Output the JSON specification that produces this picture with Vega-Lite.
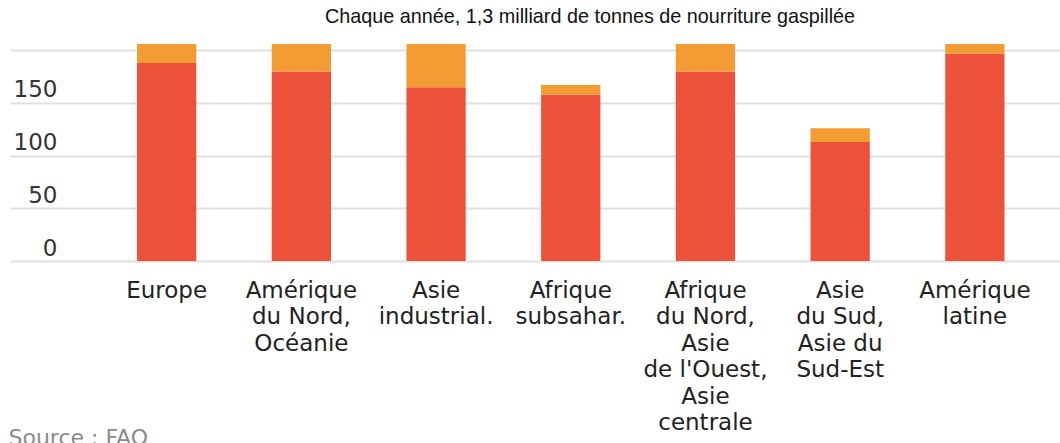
{
  "$schema": "https://vega.github.io/schema/vega-lite/v6.json",
  "width": 1050,
  "height": 217,
  "autosize": {"type": "none"},
  "padding": {"left": 10, "top": 44, "right": 0, "bottom": 182},
  "background": "white",
  "title": {
    "text": "Chaque année, 1,3 milliard de tonnes de nourriture gaspillée",
    "font": "Liberation Sans",
    "fontSize": 19.8,
    "fontWeight": "normal",
    "color": "#111111",
    "anchor": "middle",
    "frame": "group",
    "dx": 55,
    "offset": 1,
    "baseline": "alphabetic"
  },
  "data": {
    "values": [
      {"region": "Europe", "type": "Production et distribution", "ordre": 1, "kg": 188},
      {"region": "Europe", "type": "Consommateurs", "ordre": 2, "kg": 92},
      {"region": "Amérique|du Nord,|Océanie", "type": "Production et distribution", "ordre": 1, "kg": 180},
      {"region": "Amérique|du Nord,|Océanie", "type": "Consommateurs", "ordre": 2, "kg": 115},
      {"region": "Asie|industrial.", "type": "Production et distribution", "ordre": 1, "kg": 165},
      {"region": "Asie|industrial.", "type": "Consommateurs", "ordre": 2, "kg": 75},
      {"region": "Afrique|subsahar.", "type": "Production et distribution", "ordre": 1, "kg": 158},
      {"region": "Afrique|subsahar.", "type": "Consommateurs", "ordre": 2, "kg": 9},
      {"region": "Afrique|du Nord,|Asie|de l'Ouest,|Asie|centrale", "type": "Production et distribution", "ordre": 1, "kg": 180},
      {"region": "Afrique|du Nord,|Asie|de l'Ouest,|Asie|centrale", "type": "Consommateurs", "ordre": 2, "kg": 35},
      {"region": "Asie|du Sud,|Asie du|Sud-Est", "type": "Production et distribution", "ordre": 1, "kg": 113},
      {"region": "Asie|du Sud,|Asie du|Sud-Est", "type": "Consommateurs", "ordre": 2, "kg": 13},
      {"region": "Amérique|latine", "type": "Production et distribution", "ordre": 1, "kg": 197},
      {"region": "Amérique|latine", "type": "Consommateurs", "ordre": 2, "kg": 28}
    ]
  },
  "mark": {"type": "bar", "clip": true},
  "encoding": {
    "x": {
      "field": "region",
      "type": "nominal",
      "sort": null,
      "scale": {"paddingInner": 0.56, "paddingOuter": 0.6775, "align": 0.696},
      "axis": {
        "title": "Source : FAO",
        "titleFont": "DejaVu Sans",
        "titleFontSize": 22,
        "titleFontWeight": "normal",
        "titleColor": "#8a8a8a",
        "titleAnchor": "start",
        "titleAlign": "left",
        "titleBaseline": "alphabetic",
        "titleX": -2,
        "titleY": 183,
        "labelExpr": "split(datum.label, '|')",
        "labelAngle": 0,
        "labelFont": "DejaVu Sans",
        "labelFontSize": 23,
        "labelLineHeight": 26.5,
        "labelColor": "#222222",
        "labelPadding": 18,
        "labelLimit": 300,
        "labelBound": false,
        "labelOverlap": false,
        "domain": false,
        "ticks": false,
        "grid": false
      }
    },
    "y": {
      "field": "kg",
      "type": "quantitative",
      "stack": "zero",
      "scale": {"domain": [0, 206], "nice": false, "zero": true},
      "axis": {
        "title": null,
        "values": [0, 50, 100, 150, 200],
        "labelExpr": "datum.value == 200 ? '' : datum.label",
        "labelFont": "DejaVu Sans",
        "labelFontSize": 23,
        "labelColor": "#333333",
        "labelAlign": "right",
        "labelBaseline": "alphabetic",
        "labelPadding": -47,
        "labelOffset": -6,
        "labelBound": false,
        "labelFlush": false,
        "domain": false,
        "ticks": false,
        "grid": true,
        "gridColor": "#e0e0e0",
        "gridWidth": 2
      }
    },
    "color": {
      "field": "type",
      "type": "nominal",
      "scale": {"domain": ["Production et distribution", "Consommateurs"], "range": ["#ED513A", "#F29C33"]},
      "legend": null
    },
    "order": {"field": "ordre", "type": "quantitative"}
  },
  "config": {"view": {"stroke": null}}
}
